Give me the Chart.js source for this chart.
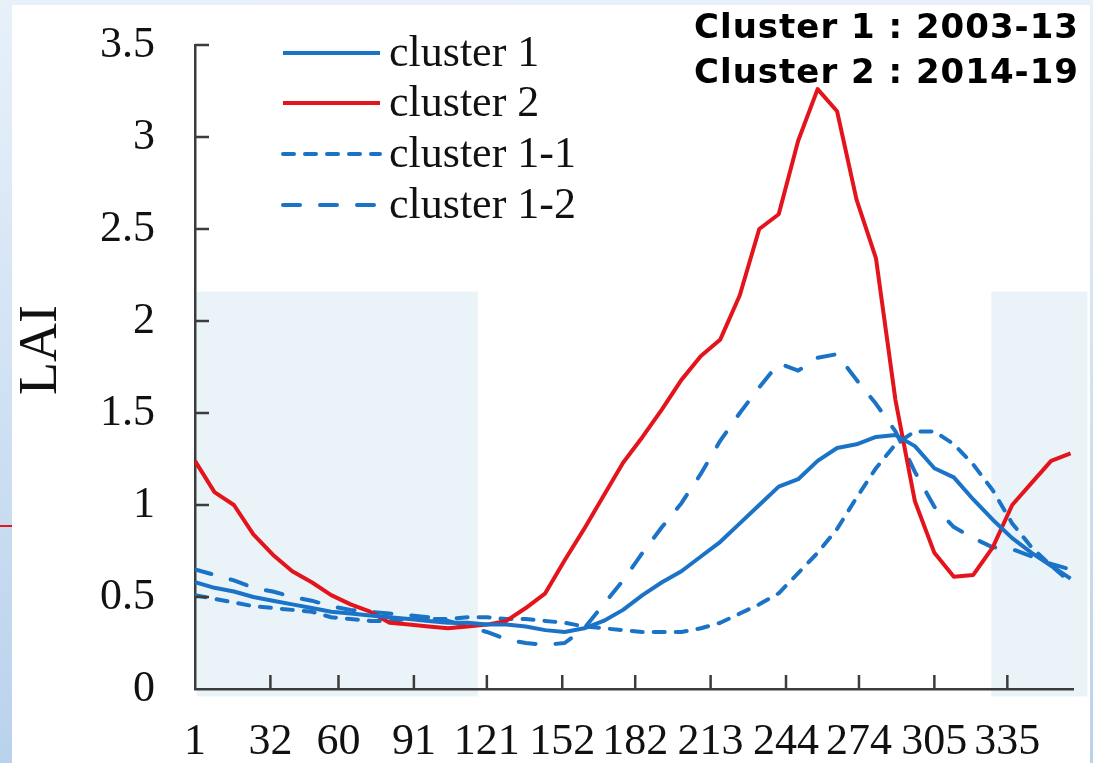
<!DOCTYPE html>
<html>
<head>
<meta charset="utf-8">
<title>LAI clusters</title>
<script src="https://cdn.jsdelivr.net/npm/chart.js@4.4.1/dist/chart.umd.min.js"></script>
<style>
    html, body {
        margin: 0;
        padding: 0;
    }
    body {
        width: 1093px;
        height: 763px;
        overflow: hidden;
        position: relative;
        background: linear-gradient(to bottom, #e8f1fa, #b9d2ec);
    }
    .sheet {
        position: absolute;
        left: 12px;
        top: 5px;
        width: 1078px;
        height: 758px;
        background: #fff;
    }
    .marker {
        position: absolute;
        left: 0;
        top: 525px;
        width: 12px;
        height: 2px;
        background: #e8141b;
    }
    #laiChart {
        position: absolute;
        left: 0;
        top: 0;
    }
</style>
</head>
<body>
<div class="sheet"></div>
<div class="marker"></div>
<canvas id="laiChart" width="1093" height="763"></canvas>

<script>
// Day of year (8-day composites)
const days = [1, 9, 17, 25, 33, 41, 49, 57, 65, 73, 81, 89, 97, 105, 113, 121,
    129, 137, 145, 153, 161, 169, 177, 185, 193, 201, 209, 217, 225, 233, 241,
    249, 257, 265, 273, 281, 289, 297, 305, 313, 321, 329, 337, 345, 353, 361];

const cluster1 = [0.58, 0.55, 0.53, 0.50, 0.48, 0.46, 0.44, 0.42, 0.41, 0.40, 0.39,
    0.38, 0.37, 0.36, 0.36, 0.35, 0.35, 0.34, 0.32, 0.31, 0.33, 0.37, 0.43, 0.51,
    0.58, 0.64, 0.72, 0.80, 0.90, 1.00, 1.10, 1.14, 1.24, 1.31, 1.33, 1.37, 1.38,
    1.32, 1.20, 1.15, 1.03, 0.92, 0.82, 0.74, 0.67, 0.60];

const cluster2 = [1.24, 1.07, 1.00, 0.84, 0.73, 0.64, 0.58, 0.51, 0.46, 0.42, 0.36,
    0.35, 0.34, 0.33, 0.34, 0.35, 0.37, 0.44, 0.52, 0.70, 0.87, 1.05, 1.23, 1.37,
    1.52, 1.68, 1.81, 1.90, 2.14, 2.50, 2.58, 2.98, 3.26, 3.14, 2.66, 2.34, 1.57,
    1.02, 0.74, 0.61, 0.62, 0.77, 1.00, 1.12, 1.24, 1.28];

const cluster11 = [0.51, 0.49, 0.47, 0.45, 0.44, 0.43, 0.42, 0.39, 0.38, 0.37, 0.37,
    0.38, 0.38, 0.38, 0.39, 0.39, 0.38, 0.38, 0.37, 0.36, 0.34, 0.33, 0.32, 0.31,
    0.31, 0.31, 0.33, 0.36, 0.41, 0.46, 0.52, 0.63, 0.74, 0.87, 1.04, 1.20, 1.33,
    1.40, 1.40, 1.33, 1.22, 1.08, 0.90, 0.77, 0.67, 0.58];

const cluster12 = [0.65, 0.62, 0.59, 0.55, 0.53, 0.50, 0.48, 0.45, 0.43, 0.42, 0.41,
    0.40, 0.39, 0.37, 0.34, 0.31, 0.27, 0.25, 0.24, 0.25, 0.33, 0.46, 0.59, 0.74,
    0.88, 1.01, 1.17, 1.35, 1.50, 1.64, 1.77, 1.73, 1.80, 1.82, 1.68, 1.55, 1.40,
    1.18, 0.99, 0.88, 0.82, 0.77, 0.76, 0.72, 0.68, 0.65];

const xTicks = [1, 32, 60, 91, 121, 152, 182, 213, 244, 274, 305, 335];

// Shaded (winter) periods, in day of year / LAI
const shadeSpans = [[1, 117.3], [328.4, 367.9]];
const shadeTop = 2.16;
const shadeBottom = -0.04;

const periodNotes = ['Cluster 1 : 2003-13', 'Cluster 2 : 2014-19'];

const BLUE = '#1a73c6';
const RED = '#e3141b';
const AXIS = '#3c3c3c';
const SERIF = '"Liberation Serif", "Times New Roman", serif';

const toPoints = (values) => values.map((v, i) => ({ x: days[i], y: v }));

const shading = {
    id: 'shading',
    beforeDraw(chart) {
        const { ctx, scales: { x, y } } = chart;
        ctx.save();
        ctx.fillStyle = '#eaf4f8';
        shadeSpans.forEach(([from, to]) => {
            const left = Math.max(x.getPixelForValue(from), chart.chartArea.left + 1.5);
            const right = x.getPixelForValue(to);
            const top = y.getPixelForValue(shadeTop);
            const bottom = y.getPixelForValue(shadeBottom);
            ctx.fillRect(left, top, right - left, bottom - top);
        });
        ctx.restore();
    }
};

const decorations = {
    id: 'decorations',
    afterDraw(chart) {
        const { ctx, chartArea, scales: { x, y } } = chart;
        ctx.save();

        // tick marks point into the plot
        ctx.strokeStyle = AXIS;
        ctx.lineWidth = 2.5;
        ctx.beginPath();
        y.ticks.forEach(t => {
            if (t.value === 0) return;
            const py = y.getPixelForValue(t.value);
            ctx.moveTo(chartArea.left, py);
            ctx.lineTo(chartArea.left + 14, py);
        });
        x.ticks.forEach(t => {
            if (t.value === 1) return;
            const px = x.getPixelForValue(t.value);
            ctx.moveTo(px, chartArea.bottom);
            ctx.lineTo(px, chartArea.bottom - 14);
        });
        ctx.stroke();

        // y axis title
        ctx.save();
        ctx.translate(42, 350);
        ctx.rotate(-Math.PI / 2);
        ctx.fillStyle = '#111';
        ctx.font = '54px ' + SERIF;
        ctx.textAlign = 'center';
        ctx.textBaseline = 'middle';
        ctx.fillText('LAI', 0, 0);
        ctx.restore();

        // legend
        const rows = [53, 103, 154, 205];
        chart.data.datasets.forEach((ds, i) => {
            const ly = rows[i];
            ctx.strokeStyle = ds.borderColor;
            ctx.lineWidth = ds.borderWidth;
            ctx.lineCap = ds.borderDash ? 'round' : 'butt';
            ctx.setLineDash(ds.borderDash || []);
            ctx.beginPath();
            ctx.moveTo(283, ly);
            ctx.lineTo(380, ly);
            ctx.stroke();
            ctx.setLineDash([]);
            ctx.fillStyle = '#111';
            ctx.font = '44px ' + SERIF;
            ctx.textAlign = 'left';
            ctx.textBaseline = 'alphabetic';
            ctx.fillText(ds.label, 389, ly + 13);
        });

        // period notes, top right
        ctx.fillStyle = '#000';
        ctx.font = 'bold 34px "DejaVu Sans", sans-serif';
        ctx.textAlign = 'right';
        ctx.letterSpacing = '1px';
        ctx.fillText(periodNotes[0], 1079, 38);
        ctx.fillText(periodNotes[1], 1079, 83);

        ctx.restore();
    }
};

new Chart(document.getElementById('laiChart'), {
    type: 'line',
    data: {
        datasets: [
            {
                label: 'cluster 1',
                data: toPoints(cluster1),
                borderColor: BLUE,
                borderWidth: 4
            },
            {
                label: 'cluster 2',
                data: toPoints(cluster2),
                borderColor: RED,
                borderWidth: 4
            },
            {
                label: 'cluster 1-1',
                data: toPoints(cluster11),
                borderColor: BLUE,
                borderWidth: 4,
                borderDash: [11, 11],
                borderCapStyle: 'round'
            },
            {
                label: 'cluster 1-2',
                data: toPoints(cluster12),
                borderColor: BLUE,
                borderWidth: 4,
                borderDash: [17, 20],
                borderCapStyle: 'round'
            }
        ]
    },
    options: {
        responsive: false,
        animation: false,
        devicePixelRatio: 1,
        events: [],
        layout: {
            padding: { top: 45, right: 20, left: 0, bottom: 0 }
        },
        elements: {
            point: { radius: 0 },
            line: { tension: 0, borderJoinStyle: 'round', fill: false }
        },
        plugins: {
            legend: { display: false },
            tooltip: { enabled: false }
        },
        scales: {
            x: {
                type: 'linear',
                min: 1,
                max: 362,
                afterBuildTicks: (scale) => {
                    scale.ticks = xTicks.map(v => ({ value: v }));
                },
                afterFit: (scale) => {
                    scale.height = 74;
                    scale.paddingLeft = 0;
                    scale.paddingRight = 0;
                },
                grid: { display: true, drawOnChartArea: false, drawTicks: false },
                border: { display: true, color: AXIS, width: 2.5 },
                ticks: {
                    autoSkip: false,
                    maxRotation: 0,
                    padding: 27,
                    color: '#111',
                    font: { family: SERIF, size: 44 }
                }
            },
            y: {
                min: 0,
                max: 3.5,
                afterFit: (scale) => {
                    scale.width = 195;
                    scale.paddingTop = 0;
                    scale.paddingBottom = 0;
                },
                grid: { display: true, drawOnChartArea: false, drawTicks: false },
                border: { display: true, color: AXIS, width: 2.5 },
                ticks: {
                    stepSize: 0.5,
                    padding: 40,
                    color: '#111',
                    font: { family: SERIF, size: 44 },
                    callback: (value) => String(value)
                }
            }
        }
    },
    plugins: [shading, decorations]
});
</script>
</body>
</html>
